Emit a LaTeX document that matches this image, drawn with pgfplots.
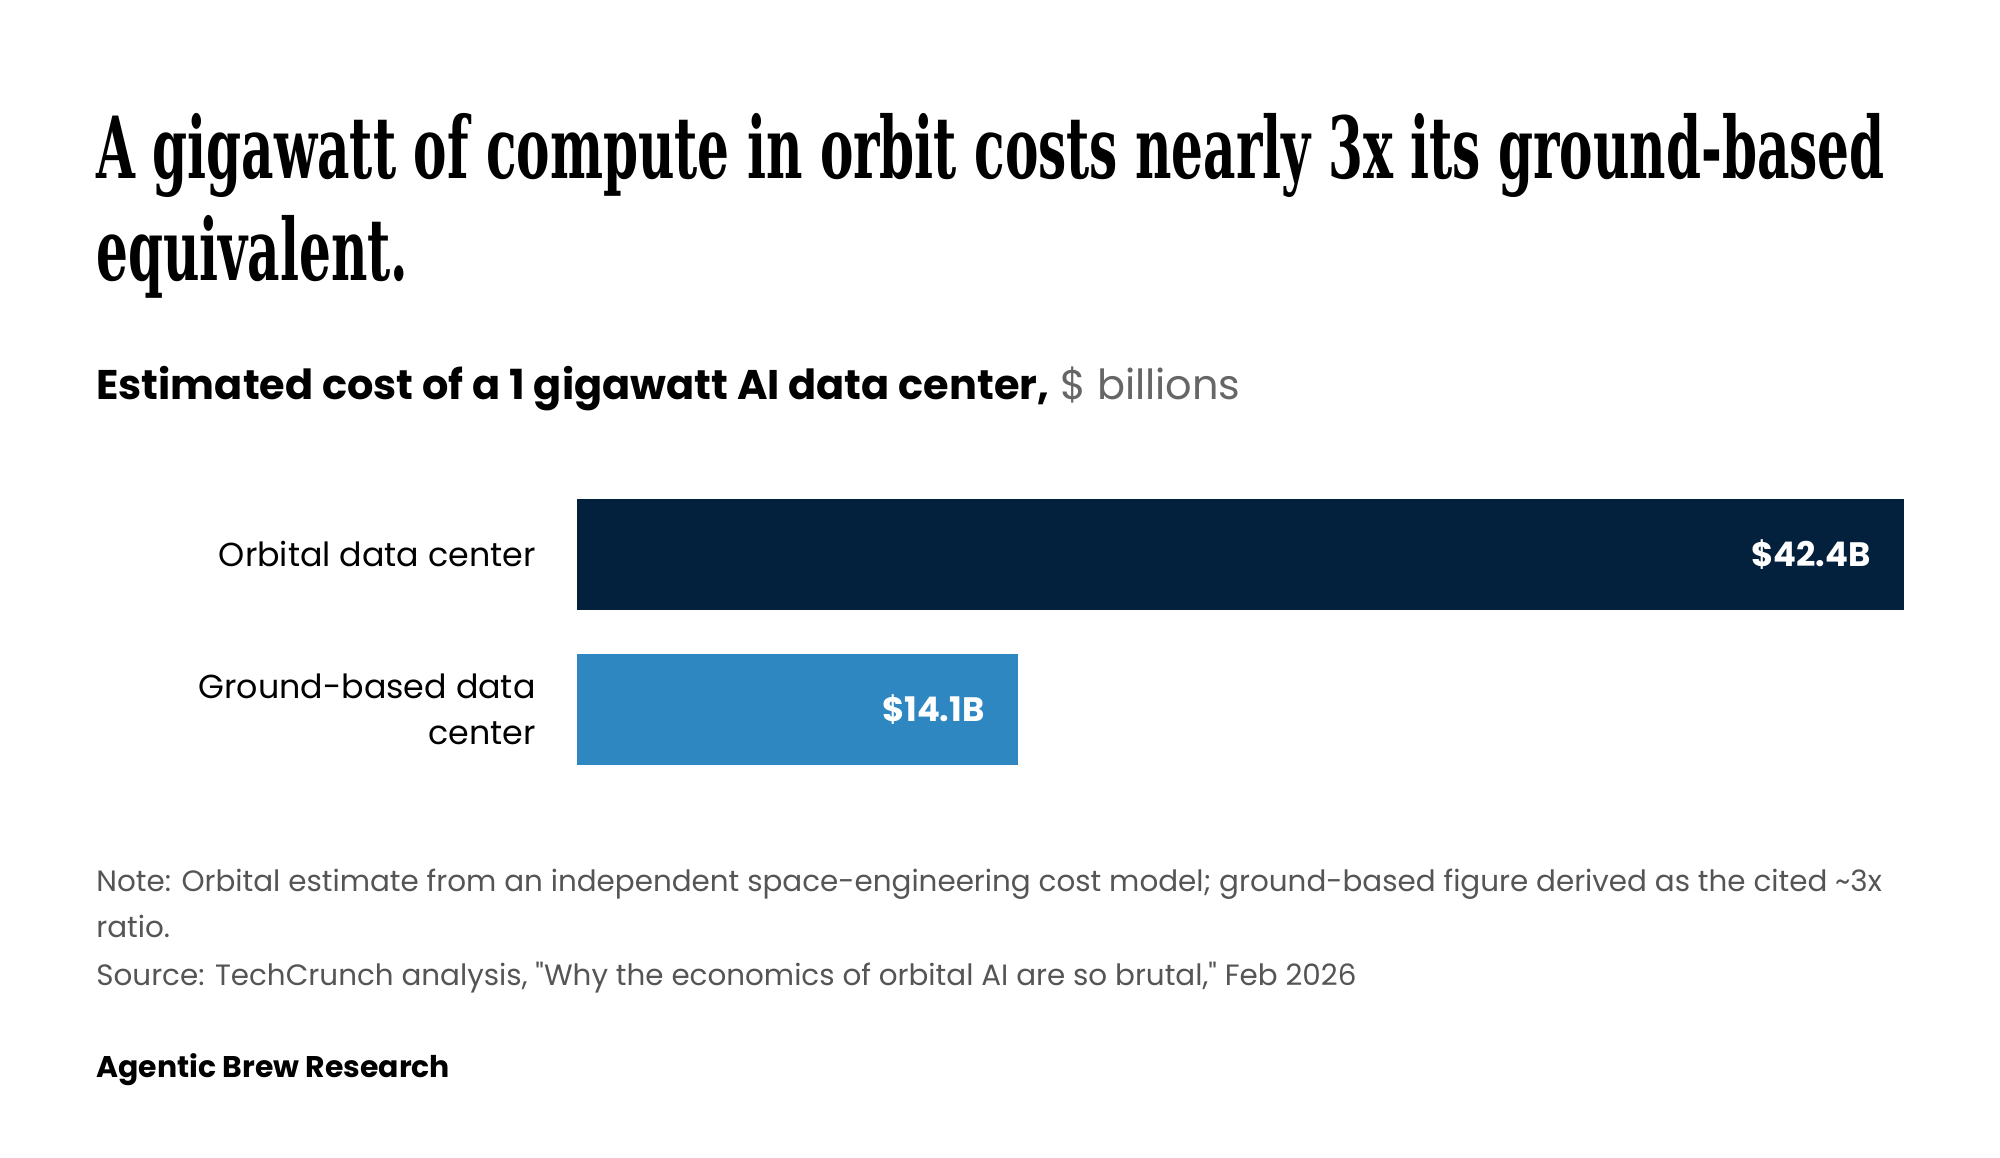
\documentclass[border=0pt]{standalone}
\usepackage{fontspec}
\usepackage{pgfplots}
\pgfplotsset{compat=1.18}
\setmainfont{Poppins}
\newfontfamily\titlefont[FakeStretch=0.585]{DejaVu Serif}
\definecolor{navy}{HTML}{03203D}
\definecolor{midblue}{HTML}{2E87C1}
\definecolor{notegray}{HTML}{555555}
\definecolor{unitgray}{HTML}{666666}

\begin{document}
\begin{tikzpicture}[x=1bp,y=1bp]
% canvas
\path[use as bounding box, fill=white] (0,0) rectangle (1000,579);

% headline
\node[anchor=base west, inner sep=0pt, font=\titlefont\bfseries\fontsize{43}{53}\selectfont]
  at (48,489.5) {A gigawatt of compute in orbit costs nearly 3x its ground-based};
\node[anchor=base west, inner sep=0pt, font=\titlefont\bfseries\fontsize{43}{53}\selectfont]
  at (48,438.5) {equivalent.};

% subtitle
\node[anchor=base west, inner sep=0pt, font=\fontsize{20.8}{25}\selectfont]
  at (48,379) {\textbf{Estimated cost of a 1 gigawatt AI data center,} \textcolor{unitgray}{\$ billions}};

\begin{axis}[
  at={(288.25bp,185.5bp)}, anchor=south west,
  scale only axis, width=663.75bp, height=155bp,
  xbar, bar width=55.5bp, bar shift=0pt,
  xmin=0, xmax=42.4, ymin=-0.5, ymax=1.5,
  axis line style={draw=none},
  xtick=\empty, ytick={0,1},
  yticklabels={Ground-based data\\center, Orbital data center},
  major tick length=0pt,
  yticklabel style={align=right, inner sep=0pt, xshift=-20.25bp,
    font=\fontsize{16.7}{23}\selectfont, text=black},
  point meta=explicit symbolic,
  nodes near coords,
  every node near coord/.append style={anchor=east, xshift=-16.5bp, inner sep=0pt,
    text=white, font=\bfseries\fontsize{17}{20}\selectfont},
]
\addplot[fill=navy, draw=none] coordinates {(42.4,1) [\$42.4B]};
\addplot[fill=midblue, draw=none] coordinates {(14.1,0) [\$14.1B]};
\end{axis}

% notes
\begin{scope}[every node/.style={anchor=base west, inner sep=0pt, text=notegray,
    font=\fontsize{14.75}{18}\selectfont}]
\node at (48,133) {Note: Orbital estimate from an independent space-engineering cost model; ground-based figure derived as the cited \textasciitilde3x};
\node at (48,110) {ratio.};
\node at (48,86) {Source: TechCrunch analysis, \textquotedbl Why the economics of orbital AI are so brutal,\textquotedbl\ Feb 2026};
\end{scope}
\node[anchor=base west, inner sep=0pt, font=\bfseries\fontsize{15}{18}\selectfont]
  at (48,40) {Agentic Brew Research};
\end{tikzpicture}
\end{document}
